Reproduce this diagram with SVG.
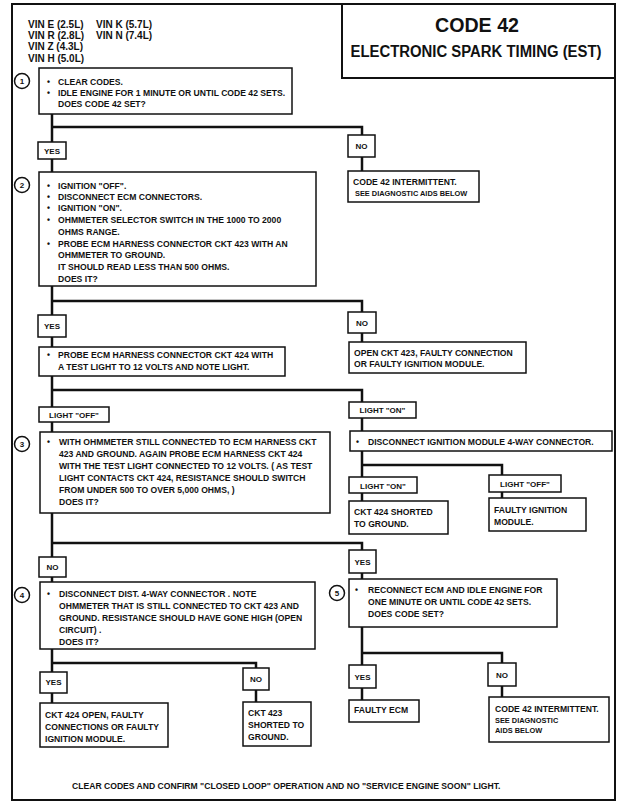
<svg xmlns="http://www.w3.org/2000/svg" width="628" height="808" viewBox="0 0 628 808">
<style>
.bg{fill:#fff}
.frame{fill:none;stroke:#111;stroke-width:2}
.box{fill:#fff;stroke:#111;stroke-width:1.5}
.wire{fill:none;stroke:#111;stroke-width:2.5;stroke-linecap:square}
text{font-family:"Liberation Sans",Arial,sans-serif;font-weight:bold;fill:#111}
.t{font-size:8.6px}
.s{font-size:7.4px}
.l{font-size:8px;text-anchor:middle}
.n{font-size:8px;text-anchor:middle}
.num{fill:#fff;stroke:#111;stroke-width:1.5}
.vin{font-size:10px}
</style>
<rect class="bg" x="0" y="0" width="628" height="808"/>
<rect class="frame" x="12" y="4" width="603" height="796"/>

<g id="title">
<path class="frame" d="M342 4 V78 H615" stroke-width="1.5"/>
<text x="477" y="32" font-size="20" text-anchor="middle" textLength="84" lengthAdjust="spacingAndGlyphs">CODE 42</text>
<text x="476" y="57" font-size="16" text-anchor="middle" textLength="251" lengthAdjust="spacingAndGlyphs">ELECTRONIC SPARK TIMING (EST)</text>
</g>

<g id="vin">
<text class="vin" x="28" y="28">VIN E (2.5L)</text>
<text class="vin" x="96" y="28">VIN K (5.7L)</text>
<text class="vin" x="28" y="39">VIN R (2.8L)</text>
<text class="vin" x="96" y="39">VIN N (7.4L)</text>
<text class="vin" x="28" y="50">VIN Z (4.3L)</text>
<text class="vin" x="28" y="62">VIN H (5.0L)</text>
</g>

<g id="connectors">
<path class="wire" d="M52 114 V142 M52 127 H362 V135"/>
<path class="wire" d="M52 159 V172 M362 157 V171"/>
<path class="wire" d="M52 286 V315 M52 301 H362 V312"/>
<path class="wire" d="M52 337 V347 M362 333 V342"/>
<path class="wire" d="M52 376 V407 M52 390 H362 V402"/>
<path class="wire" d="M52 422 V432 M362 418 V431"/>
<path class="wire" d="M362 451 V477 M362 465 H502 V475"/>
<path class="wire" d="M362 493 V501 M502 492 V498"/>
<path class="wire" d="M52 513 V557 M52 543 H362 V550"/>
<path class="wire" d="M52 577 V582 M362 573 V579"/>
<path class="wire" d="M52 649 V672 M52 663 H256 V668"/>
<path class="wire" d="M52 693 V703 M256 690 V702"/>
<path class="wire" d="M362 627 V665 M362 653 H502 V663"/>
<path class="wire" d="M362 688 V700 M502 686 V697"/>
</g>

<g id="step1">
<circle class="num" cx="22" cy="81" r="7.5"/>
<text class="n" x="22" y="84">1</text>
<rect class="box" x="39" y="68" width="253" height="46"/>
<text class="t" x="47" y="85">•</text><text class="t" x="58" y="85">CLEAR CODES.</text>
<text class="t" x="47" y="96">•</text><text class="t" x="58" y="96">IDLE ENGINE FOR 1 MINUTE OR UNTIL CODE 42 SETS.</text>
<text class="t" x="58" y="107">DOES CODE 42 SET?</text>
</g>

<g id="yes1"><rect class="box" x="38" y="142" width="28" height="17"/><text class="l" x="52" y="154">YES</text></g>
<g id="no1"><rect class="box" x="348" y="135" width="27" height="22"/><text class="l" x="361.5" y="149">NO</text></g>

<g id="intermittent1">
<rect class="box" x="348" y="171" width="131" height="31"/>
<text class="t" x="353" y="185">CODE 42 INTERMITTENT.</text>
<text class="s" x="355" y="196">SEE DIAGNOSTIC AIDS BELOW</text>
</g>

<g id="step2">
<circle class="num" cx="22" cy="185" r="7.5"/>
<text class="n" x="22" y="188">2</text>
<rect class="box" x="39" y="172" width="277" height="114"/>
<text class="t" x="47" y="189">•</text><text class="t" x="58" y="189">IGNITION "OFF".</text>
<text class="t" x="47" y="200">•</text><text class="t" x="58" y="200">DISCONNECT ECM CONNECTORS.</text>
<text class="t" x="47" y="211">•</text><text class="t" x="58" y="211">IGNITION "ON".</text>
<text class="t" x="47" y="223">•</text><text class="t" x="58" y="223">OHMMETER SELECTOR SWITCH IN THE 1000 TO 2000</text>
<text class="t" x="58" y="235">OHMS RANGE.</text>
<text class="t" x="47" y="247">•</text><text class="t" x="58" y="247">PROBE ECM HARNESS CONNECTOR CKT 423  WITH AN</text>
<text class="t" x="58" y="258">OHMMETER TO GROUND.</text>
<text class="t" x="58" y="270">IT SHOULD READ LESS THAN 500 OHMS.</text>
<text class="t" x="58" y="282">DOES IT?</text>
</g>

<g id="yes2"><rect class="box" x="38" y="315" width="28" height="22"/><text class="l" x="52" y="329">YES</text></g>
<g id="no2"><rect class="box" x="348" y="312" width="28" height="21"/><text class="l" x="362" y="326">NO</text></g>

<g id="probe424">
<rect class="box" x="39" y="347" width="246" height="29"/>
<text class="t" x="47" y="358">•</text><text class="t" x="58" y="358">PROBE ECM HARNESS CONNECTOR CKT 424 WITH</text>
<text class="t" x="58" y="370">A TEST LIGHT TO 12  VOLTS AND NOTE LIGHT.</text>
</g>

<g id="open423">
<rect class="box" x="349" y="342" width="177" height="31"/>
<text class="t" x="354" y="356">OPEN CKT 423, FAULTY CONNECTION</text>
<text class="t" x="354" y="367">OR FAULTY IGNITION MODULE.</text>
</g>

<g id="lightoff1"><rect class="box" x="39" y="407" width="70" height="15"/><text class="l" x="74" y="418">LIGHT "OFF"</text></g>
<g id="lighton1"><rect class="box" x="349" y="402" width="67" height="16"/><text class="l" x="382.5" y="413">LIGHT "ON"</text></g>

<g id="step3">
<circle class="num" cx="22" cy="444" r="7.5"/>
<text class="n" x="22" y="447">3</text>
<rect class="box" x="40" y="432" width="290" height="81"/>
<text class="t" x="47" y="445">•</text><text class="t" x="59" y="445">WITH OHMMETER STILL CONNECTED TO ECM HARNESS CKT</text>
<text class="t" x="59" y="457">423 AND GROUND.  AGAIN PROBE ECM HARNESS CKT 424</text>
<text class="t" x="59" y="469">WITH THE TEST LIGHT CONNECTED TO 12 VOLTS.  ( AS TEST</text>
<text class="t" x="59" y="481">LIGHT CONTACTS CKT 424, RESISTANCE SHOULD SWITCH</text>
<text class="t" x="59" y="493">FROM UNDER 500 TO OVER 5,000 OHMS, )</text>
<text class="t" x="59" y="505">DOES IT?</text>
</g>

<g id="disconnect-module">
<rect class="box" x="350" y="431" width="262" height="20"/>
<text class="t" x="356" y="445">•</text><text class="t" x="368" y="445">DISCONNECT IGNITION MODULE 4-WAY CONNECTOR.</text>
</g>

<g id="lighton2"><rect class="box" x="349" y="477" width="68" height="16"/><text class="l" x="383" y="489">LIGHT "ON"</text></g>
<g id="lightoff2"><rect class="box" x="489" y="475" width="72" height="17"/><text class="l" x="525" y="487">LIGHT "OFF"</text></g>

<g id="ckt424short">
<rect class="box" x="349" y="501" width="99" height="33"/>
<text class="t" x="354" y="515">CKT 424  SHORTED</text>
<text class="t" x="354" y="527">TO GROUND.</text>
</g>

<g id="faultymodule">
<rect class="box" x="489" y="498" width="97" height="33"/>
<text class="t" x="494" y="513">FAULTY IGNITION</text>
<text class="t" x="494" y="525">MODULE.</text>
</g>

<g id="no3"><rect class="box" x="39" y="557" width="27" height="20"/><text class="l" x="52.5" y="570">NO</text></g>
<g id="yes3"><rect class="box" x="349" y="550" width="27" height="23"/><text class="l" x="362.5" y="565">YES</text></g>

<g id="step4">
<circle class="num" cx="22" cy="595" r="7.5"/>
<text class="n" x="22" y="598">4</text>
<rect class="box" x="40" y="582" width="275" height="67"/>
<text class="t" x="47" y="597">•</text><text class="t" x="59" y="597">DISCONNECT DIST. 4-WAY CONNECTOR .  NOTE</text>
<text class="t" x="59" y="609">OHMMETER THAT IS STILL CONNECTED TO CKT 423  AND</text>
<text class="t" x="59" y="621">GROUND. RESISTANCE SHOULD HAVE GONE HIGH (OPEN</text>
<text class="t" x="59" y="633">CIRCUIT) .</text>
<text class="t" x="59" y="645">DOES IT?</text>
</g>

<g id="step5">
<circle class="num" cx="337" cy="593" r="7.5"/>
<text class="n" x="337" y="596">5</text>
<rect class="box" x="349" y="579" width="208" height="48"/>
<text class="t" x="355" y="593">•</text><text class="t" x="368" y="593">RECONNECT ECM AND IDLE ENGINE FOR</text>
<text class="t" x="368" y="605">ONE MINUTE OR UNTIL CODE 42 SETS.</text>
<text class="t" x="368" y="617">DOES CODE SET?</text>
</g>

<g id="yes4"><rect class="box" x="40" y="672" width="27" height="21"/><text class="l" x="53.5" y="685">YES</text></g>
<g id="no4"><rect class="box" x="243" y="668" width="26" height="22"/><text class="l" x="256" y="682">NO</text></g>
<g id="yes5"><rect class="box" x="349" y="665" width="27" height="23"/><text class="l" x="362.5" y="680">YES</text></g>
<g id="no5"><rect class="box" x="488" y="663" width="28" height="23"/><text class="l" x="502" y="678">NO</text></g>

<g id="ckt424open">
<rect class="box" x="40" y="703" width="128" height="44"/>
<text class="t" x="45" y="718">CKT 424 OPEN, FAULTY</text>
<text class="t" x="45" y="730">CONNECTIONS OR FAULTY</text>
<text class="t" x="45" y="742">IGNITION MODULE.</text>
</g>

<g id="ckt423short">
<rect class="box" x="243" y="702" width="68" height="44"/>
<text class="t" x="248" y="716">CKT 423</text>
<text class="t" x="248" y="728">SHORTED TO</text>
<text class="t" x="248" y="740">GROUND.</text>
</g>

<g id="faultyecm">
<rect class="box" x="349" y="700" width="70" height="22"/>
<text class="t" x="354" y="713">FAULTY ECM</text>
</g>

<g id="intermittent2">
<rect class="box" x="489" y="697" width="120" height="45"/>
<text class="t" x="495" y="712">CODE 42 INTERMITTENT.</text>
<text class="s" x="495" y="723">SEE DIAGNOSTIC</text>
<text class="s" x="495" y="733">AIDS BELOW</text>
</g>

<g id="footer">
<text class="t" x="72" y="789">CLEAR CODES AND CONFIRM "CLOSED LOOP" OPERATION AND NO "SERVICE ENGINE SOON" LIGHT.</text>
</g>
</svg>
